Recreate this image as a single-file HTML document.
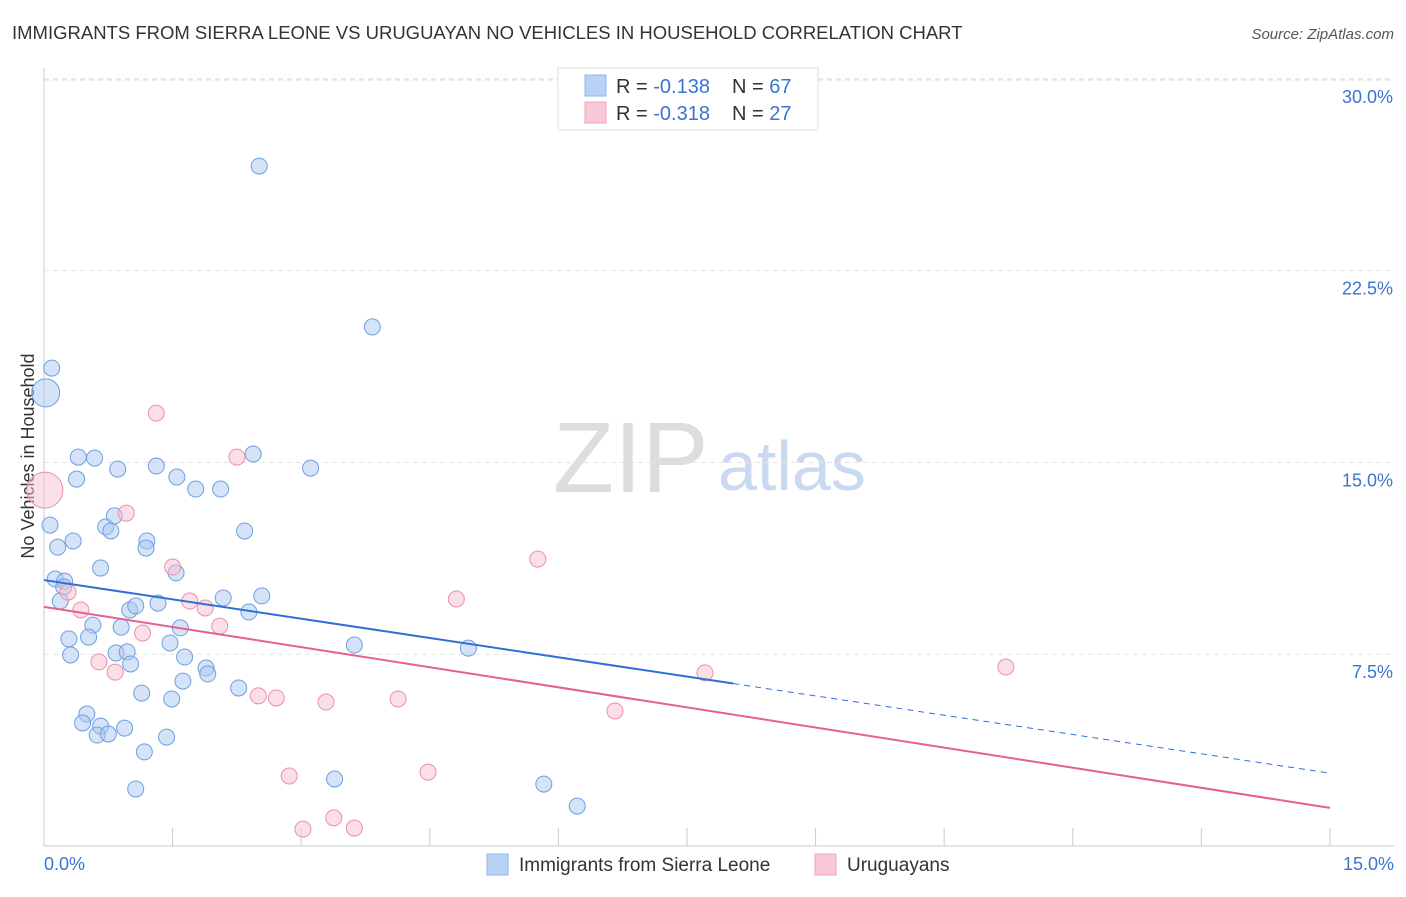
<!DOCTYPE html>
<html><head><meta charset="utf-8"><style>
body{margin:0;background:#fff;font-family:"Liberation Sans",sans-serif}
svg text{font-family:"Liberation Sans",sans-serif}
</style></head><body>
<svg id="chart" width="1406" height="892" xmlns="http://www.w3.org/2000/svg">
<text x="12" y="39" font-size="18.5" fill="#333">IMMIGRANTS FROM SIERRA LEONE VS URUGUAYAN NO VEHICLES IN HOUSEHOLD CORRELATION CHART</text>
<text x="1394" y="39" font-size="15" fill="#555" font-style="italic" text-anchor="end">Source: ZipAtlas.com</text>
<text x="553" y="492" font-size="100" fill="#ddd" font-family="Liberation Serif">ZIP</text>
<text x="718" y="490" font-size="70" fill="#c8d9f0">atlas</text>
<text transform="translate(34,456) rotate(-90)" font-size="18" fill="#333" text-anchor="middle">No Vehicles in Household</text>
<g id="grid"></g><g id="marks"></g>
<g>
<rect x="558" y="68" width="260" height="62" fill="#fff" stroke="#ddd"/>
<rect x="585" y="75" width="21" height="21" fill="#b8d2f5" stroke="#8fb5ea"/>
<text x="616" y="93" font-size="20" fill="#333">R = <tspan fill="#3a74d1">-0.138</tspan><tspan x="732">N = </tspan><tspan fill="#3a74d1">67</tspan></text>
<rect x="585" y="102" width="21" height="21" fill="#f9c8d6" stroke="#efa3bb"/>
<text x="616" y="120" font-size="20" fill="#333">R = <tspan fill="#3a74d1">-0.318</tspan><tspan x="732">N = </tspan><tspan fill="#3a74d1">27</tspan></text>
</g>
<g>
<rect x="487" y="854" width="21" height="21" fill="#b8d2f5" stroke="#8fb5ea"/>
<text x="519" y="871" font-size="19" fill="#333">Immigrants from Sierra Leone</text>
<rect x="815" y="854" width="21" height="21" fill="#f9c8d6" stroke="#efa3bb"/>
<text x="847" y="871" font-size="19" fill="#333">Uruguayans</text>
</g>
</svg>
<script>
const blueX=[2.51,3.83,0.09,0.02,0.40,0.59,2.44,0.86,1.31,3.11,0.38,1.55,1.77,2.06,0.07,0.72,0.78,0.82,2.34,0.34,0.16,1.20,1.19,0.66,1.54,0.13,0.24,0.23,0.19,1.00,1.07,1.33,2.09,2.54,2.39,0.57,0.90,1.59,0.29,0.52,1.47,3.62,4.95,0.31,0.84,0.97,1.01,1.64,1.89,1.91,1.62,2.27,1.14,1.49,0.50,0.45,0.66,0.94,0.62,0.75,1.43,1.17,3.39,5.83,1.07,6.22];
const blueY=[26.59,20.30,18.69,17.72,15.21,15.17,15.33,14.74,14.86,14.78,14.35,14.43,13.96,13.96,12.55,12.48,12.32,12.91,12.32,11.93,11.69,11.93,11.65,10.87,10.68,10.44,10.36,10.13,9.58,9.23,9.39,9.50,9.70,9.78,9.15,8.64,8.56,8.53,8.10,8.17,7.94,7.86,7.74,7.47,7.55,7.59,7.12,7.39,6.96,6.73,6.45,6.18,5.98,5.75,5.16,4.81,4.69,4.61,4.34,4.38,4.26,3.68,2.62,2.42,2.23,1.56];
const pinkX=[0.01,1.31,2.25,0.96,5.76,1.50,0.28,0.43,4.81,1.70,1.88,2.05,1.15,0.64,0.83,7.71,11.22,2.50,2.71,3.29,4.13,6.66,2.86,4.48,3.38,3.02,3.62];
const pinkY=[13.92,16.93,15.21,13.02,11.22,10.91,9.93,9.23,9.66,9.58,9.31,8.60,8.33,7.20,6.80,6.77,7.00,5.87,5.79,5.63,5.75,5.28,2.74,2.89,1.10,0.66,0.70];
const blueBig=[3], pinkBig=[0];
const yTicks=[7.5,15,22.5,30];
const xTickLabels=["0.0%","15.0%"];
const blueTrend=[10.40,2.85], pinkTrend=[9.35,1.49], blueSolidEnd=8.04;
const NS="http://www.w3.org/2000/svg";
const sx=v=>44+v*85.73, sy=v=>846-v*25.57;
function mk(t,a,p){const e=document.createElementNS(NS,t);for(const k in a)e.setAttribute(k,a[k]);p.appendChild(e);return e;}
const g=document.getElementById('grid'), m=document.getElementById('marks');
mk('line',{x1:44,y1:80,x2:1394,y2:80,stroke:'#ddd','stroke-dasharray':'5,4'},g);
yTicks.forEach(t=>{const l=mk('line',{x1:44,y1:sy(t),x2:1394,y2:sy(t),stroke:'#e4e4e4','stroke-dasharray':'5,4'},g);


const tx=mk('text',{x:1393,y:sy(t)+24,'font-size':18,fill:'#3a74d1','text-anchor':'end'},g);tx.textContent=t.toFixed(1)+'%';

});
mk('line',{x1:44,y1:68,x2:44,y2:846,stroke:'#ccc'},g);
mk('line',{x1:44,y1:846,x2:1394,y2:846,stroke:'#ccc'},g);
for(let i=0;i<=10;i++){mk('line',{x1:sx(i*1.5),y1:828,x2:sx(i*1.5),y2:846,stroke:'#ccc'},g);}
xTickLabels.forEach((s,i)=>{const t=mk('text',{x:i?1394:44,y:870,'font-size':18,fill:'#3a74d1','text-anchor':i?'end':'start'},g);t.textContent=s;

});
function pts(X,Y,big,r,fill,stroke,name){X.forEach((x,i)=>{const c=mk('circle',{cx:sx(x),cy:sy(Y[i]),r:big.includes(i)?r:8,fill:fill,'fill-opacity':0.5,stroke:stroke,'stroke-width':1},m);

});}
pts(blueX,blueY,blueBig,14,'#a9c8ef','#6f9fe0','point-sierra-leone');
pts(pinkX,pinkY,pinkBig,18,'#f7bfd0','#eb8fac','point-uruguayan');
const by=x=>blueTrend[0]+(blueTrend[1]-blueTrend[0])*x/15;
const l1=mk('line',{x1:sx(0),y1:sy(by(0)),x2:sx(blueSolidEnd),y2:sy(by(blueSolidEnd)),stroke:'#2f6fd6','stroke-width':2},m);


const l2=mk('line',{x1:sx(blueSolidEnd),y1:sy(by(blueSolidEnd)),x2:sx(15),y2:sy(by(15)),stroke:'#2f6fd6','stroke-width':1,'stroke-dasharray':'6,5'},m);


const l3=mk('line',{x1:sx(0),y1:sy(pinkTrend[0]),x2:sx(15),y2:sy(pinkTrend[1]),stroke:'#e5608e','stroke-width':2},m);


</script>
</body></html>
